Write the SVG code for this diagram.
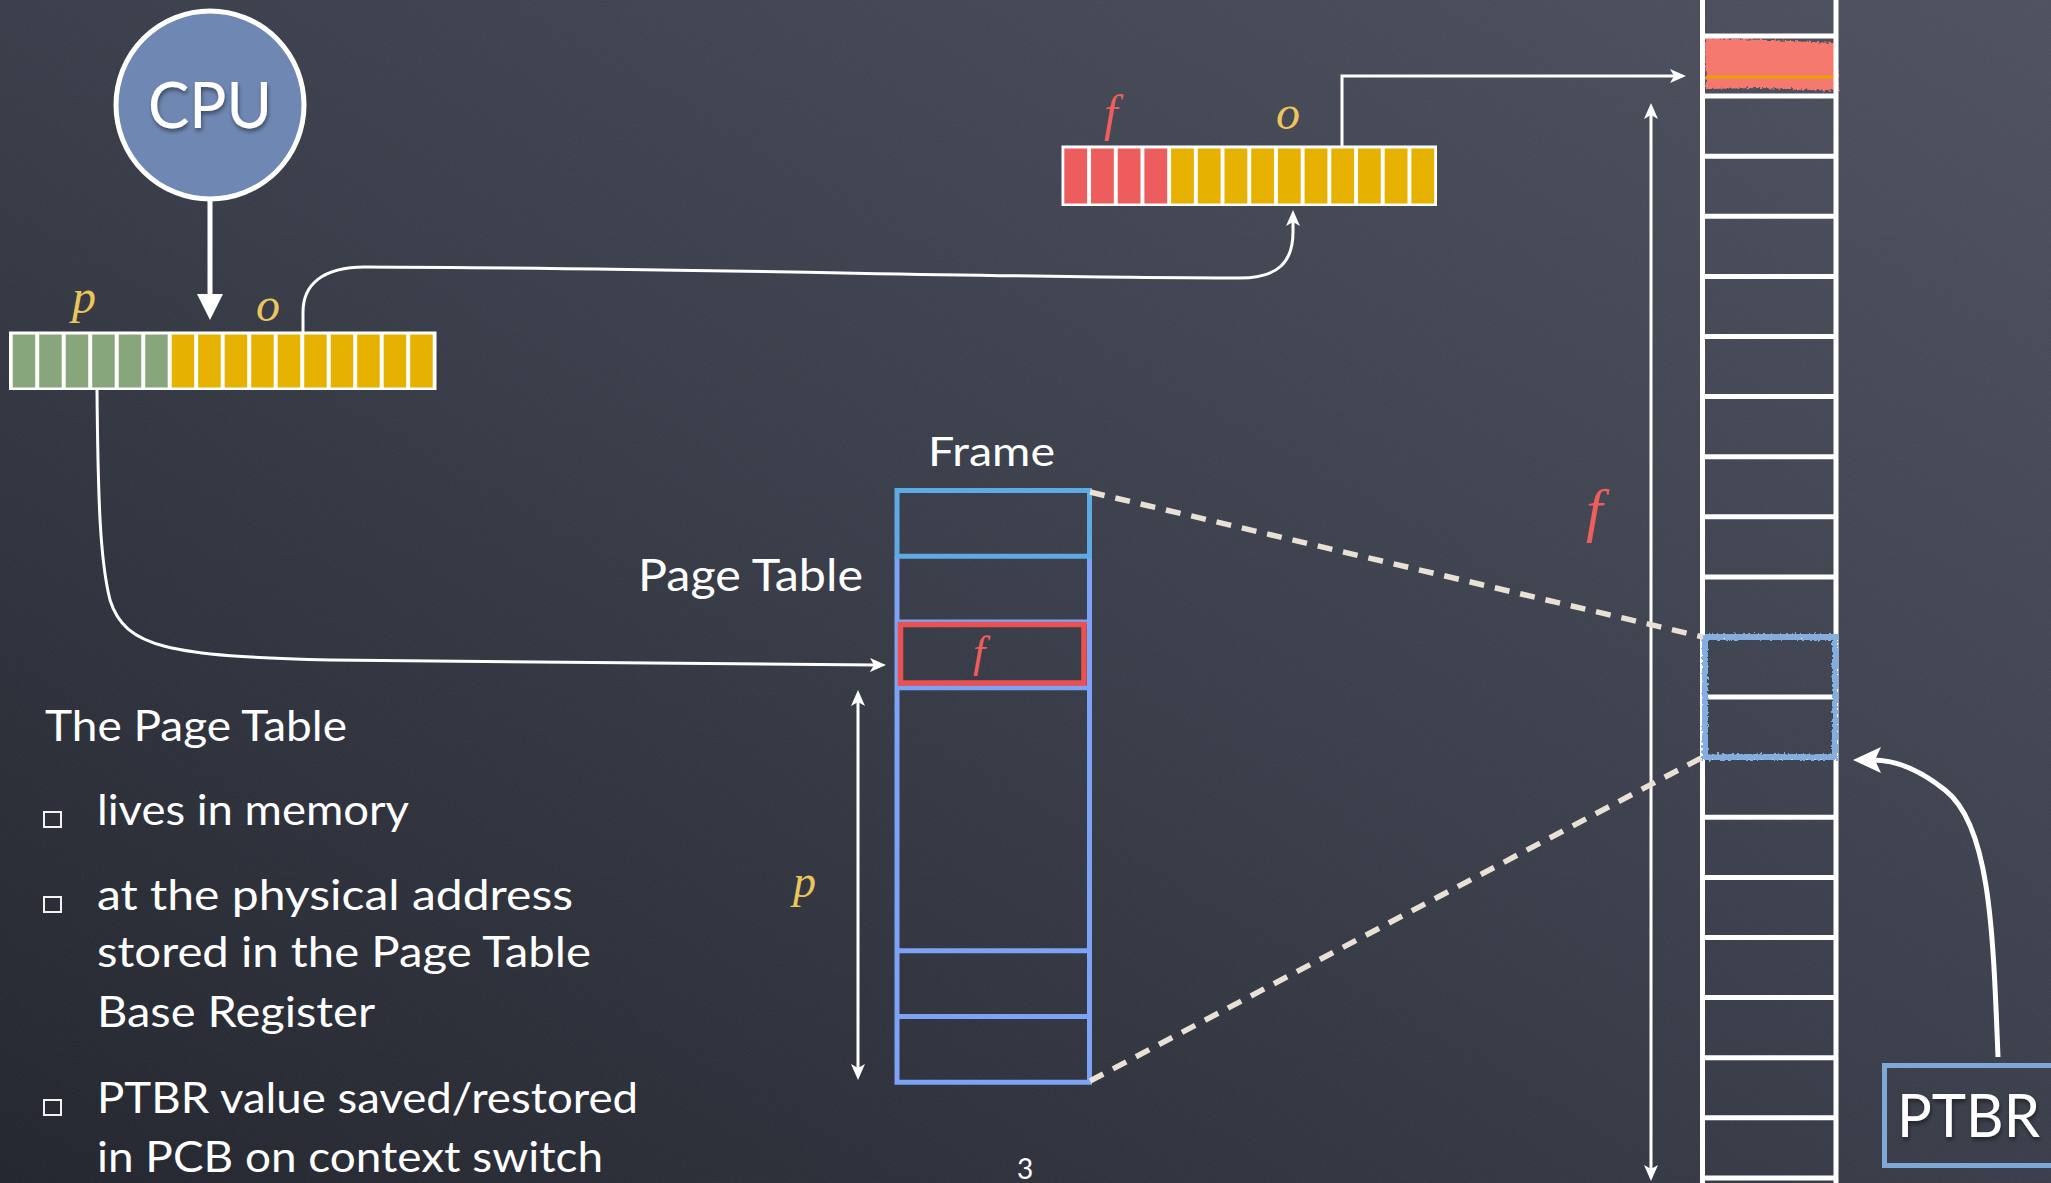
<svg xmlns="http://www.w3.org/2000/svg" width="2051" height="1183" viewBox="0 0 2051 1183">
  <defs>
    <linearGradient id="board" x1="0" y1="1" x2="1" y2="0">
      <stop offset="0" stop-color="#23262e"/>
      <stop offset="0.5" stop-color="#3a3e4a"/>
      <stop offset="1" stop-color="#4e525f"/>
    </linearGradient>
    <filter id="chalk" x="0" y="0" width="100%" height="100%">
      <feTurbulence type="fractalNoise" baseFrequency="0.8" numOctaves="2" seed="3" result="n"/>
      <feColorMatrix in="n" type="matrix" values="0 0 0 0 1  0 0 0 0 1  0 0 0 0 1  0 0 0 0.5 -0.15"/>
    </filter>
    <filter id="rough" x="-5%" y="-5%" width="110%" height="110%">
      <feTurbulence type="fractalNoise" baseFrequency="0.35" numOctaves="2" seed="7" result="t"/>
      <feDisplacementMap in="SourceGraphic" in2="t" scale="5" xChannelSelector="R" yChannelSelector="G"/>
    </filter>
    <filter id="shadow" x="-10%" y="-10%" width="120%" height="130%">
      <feDropShadow dx="1" dy="3" stdDeviation="2" flood-color="#000" flood-opacity="0.45"/>
    </filter>
    <marker id="ah" viewBox="0 0 16 16" markerWidth="16" markerHeight="16" refX="6" refY="8" orient="auto-start-reverse" markerUnits="userSpaceOnUse">
      <path d="M0,1 L16,8 L0,15 L4,8 z" fill="#ffffff"/>
    </marker>
    <marker id="ahBig" viewBox="0 0 26 26" markerWidth="26" markerHeight="26" refX="8" refY="13" orient="auto" markerUnits="userSpaceOnUse">
      <path d="M0,0 L26,13 L0,26 z" fill="#ffffff"/>
    </marker>
    <marker id="ahCurve" viewBox="0 0 28 26" markerWidth="28" markerHeight="26" refX="8" refY="13" orient="auto" markerUnits="userSpaceOnUse">
      <path d="M0,0 L28,13 L0,26 L6,13 z" fill="#ffffff"/>
    </marker>
    <style>
      .txt { font-family: Lato, "Open Sans", "Liberation Sans", sans-serif; fill: #ffffff; }
      .math { font-family: "Liberation Serif", "DejaVu Serif", serif; font-style: italic; }
      .gold { fill: #ecc55c; }
      .red { fill: #ef5d5d; }
      .frame { fill: #ffffff; }
      .green { fill: #87a67b; }
      .amber { fill: #e7b100; }
      .rcell { fill: #ee5d5d; }
      .wire { fill: none; stroke: #ffffff; stroke-width: 3; }
      .dash { fill: none; stroke: #e9e1d3; stroke-width: 5.5; stroke-dasharray: 15 11; }
      .pt { fill: none; stroke: #7ea2f5; stroke-width: 5; }
      .mem { fill: none; stroke: #ffffff; stroke-width: 5; }
      .bullet { fill: none; stroke: #f2f2f2; stroke-width: 2; }
    </style>
  </defs>

  <!-- chalkboard -->
  <rect width="2051" height="1183" fill="url(#board)"/>
  <rect width="2051" height="1183" filter="url(#chalk)" opacity="0.12"/>

  <!-- CPU -->
  <g id="cpu">
    <circle cx="210" cy="105" r="94" fill="#6f88b3" stroke="#ffffff" stroke-width="5"/>
    <text class="txt" x="148" y="128" font-size="64" textLength="124" lengthAdjust="spacingAndGlyphs" filter="url(#shadow)">CPU</text>
  </g>

  <!-- virtual address: page number p + offset o -->
  <g id="virtual-address">
    <rect x="9" y="331.5" width="427.5" height="58.5" class="frame"/>
    <rect class="green" x="12.7" y="334.5" width="22.5" height="53"/>
    <rect class="green" x="39.2" y="334.5" width="22.5" height="53"/>
    <rect class="green" x="65.7" y="334.5" width="22.5" height="53"/>
    <rect class="green" x="92.2" y="334.5" width="22.5" height="53"/>
    <rect class="green" x="118.7" y="334.5" width="22.5" height="53"/>
    <rect class="green" x="145.2" y="334.5" width="22.5" height="53"/>
    <rect class="amber" x="171.7" y="334.5" width="22.5" height="53"/>
    <rect class="amber" x="198.2" y="334.5" width="22.5" height="53"/>
    <rect class="amber" x="224.7" y="334.5" width="22.5" height="53"/>
    <rect class="amber" x="251.2" y="334.5" width="22.5" height="53"/>
    <rect class="amber" x="277.7" y="334.5" width="22.5" height="53"/>
    <rect class="amber" x="304.2" y="334.5" width="22.5" height="53"/>
    <rect class="amber" x="330.7" y="334.5" width="22.5" height="53"/>
    <rect class="amber" x="357.2" y="334.5" width="22.5" height="53"/>
    <rect class="amber" x="383.7" y="334.5" width="22.5" height="53"/>
    <rect class="amber" x="410.2" y="334.5" width="22.5" height="53"/>
    <text class="math gold" x="72" y="313" font-size="48">p</text>
    <text class="math gold" x="256" y="321" font-size="48">o</text>
  </g>

  <!-- physical address: frame f + offset o -->
  <g id="physical-address">
    <rect x="1061.5" y="145.5" width="375.5" height="60.5" class="frame"/>
    <rect class="rcell" x="1064.3" y="148.5" width="22.8" height="55"/>
    <rect class="rcell" x="1091" y="148.5" width="22.8" height="55"/>
    <rect class="rcell" x="1117.7" y="148.5" width="22.8" height="55"/>
    <rect class="rcell" x="1144.4" y="148.5" width="22.8" height="55"/>
    <rect class="amber" x="1171.1" y="148.5" width="22.8" height="55"/>
    <rect class="amber" x="1197.8" y="148.5" width="22.8" height="55"/>
    <rect class="amber" x="1224.5" y="148.5" width="22.8" height="55"/>
    <rect class="amber" x="1251.2" y="148.5" width="22.8" height="55"/>
    <rect class="amber" x="1277.9" y="148.5" width="22.8" height="55"/>
    <rect class="amber" x="1304.6" y="148.5" width="22.8" height="55"/>
    <rect class="amber" x="1331.3" y="148.5" width="22.8" height="55"/>
    <rect class="amber" x="1358" y="148.5" width="22.8" height="55"/>
    <rect class="amber" x="1384.7" y="148.5" width="22.8" height="55"/>
    <rect class="amber" x="1411.4" y="148.5" width="22.8" height="55"/>
    <text class="math red" x="1104" y="130" font-size="50">f</text>
    <text class="math gold" x="1276" y="129" font-size="48">o</text>
  </g>

  <!-- page table -->
  <g id="page-table">
    <text class="txt" x="928" y="466" font-size="40" textLength="127" lengthAdjust="spacingAndGlyphs">Frame</text>
    <text class="txt" x="638" y="591" font-size="44" textLength="225" lengthAdjust="spacingAndGlyphs">Page Table</text>
    <path class="pt" d="M897,556.3 L897,1082.3 L1089.5,1082.3 L1089.5,556.3 M897,622 L1089.5,622 M897,687.8 L1089.5,687.8 M897,950.8 L1089.5,950.8 M897,1016.5 L1089.5,1016.5"/>
    <path d="M897,556.3 L897,490.5 L1089.5,490.5 L1089.5,556.3 Z" fill="none" stroke="#5eaae2" stroke-width="5"/>
    <rect x="900.5" y="624.5" width="183.5" height="58.5" fill="none" stroke="#ea5252" stroke-width="5.5"/>
    <text class="math red" x="973" y="667" font-size="44">f</text>
    <text class="math gold" x="793" y="897" font-size="46">p</text>
  </g>

  <!-- physical memory -->
  <g id="memory">
    <path d="M1705,38 L1770,40 L1836,43 L1839,91 L1760,88 L1706,89 Z" fill="#f6796f" filter="url(#rough)"/>
    <line x1="1706" y1="77" x2="1833" y2="77" stroke="#e3a400" stroke-width="3"/>
    <path class="mem" d="M1702.5,0 L1702.5,1183 M1836,0 L1836,1183
      M1702.5,36 H1836 M1702.5,96.1 H1836 M1702.5,156.2 H1836 M1702.5,216.3 H1836 M1702.5,276.4 H1836
      M1702.5,336.5 H1836 M1702.5,396.6 H1836 M1702.5,456.7 H1836 M1702.5,516.8 H1836 M1702.5,576.9 H1836
      M1702.5,637 H1836 M1702.5,697.1 H1836 M1702.5,757.2 H1836 M1702.5,817.3 H1836 M1702.5,877.4 H1836
      M1702.5,937.5 H1836 M1702.5,997.6 H1836 M1702.5,1057.7 H1836 M1702.5,1117.8 H1836 M1702.5,1177.9 H1836"/>
    <rect x="1705" y="637" width="130" height="120" fill="none" stroke="#85aee0" stroke-width="6" filter="url(#rough)"/>
    <text class="math red" x="1586" y="530" font-size="60">f</text>
  </g>

  <!-- page table base register -->
  <g id="ptbr">
    <rect x="1884.5" y="1065.5" width="200" height="100" fill="none" stroke="#7ea8d8" stroke-width="5"/>
    <text class="txt" x="1897" y="1137" font-size="60" textLength="143" lengthAdjust="spacingAndGlyphs" filter="url(#shadow)">PTBR</text>
  </g>

  <!-- notes -->
  <g id="notes" class="txt" font-size="42">
    <text x="45" y="741" textLength="302" lengthAdjust="spacingAndGlyphs">The Page Table</text>
    <rect class="bullet" x="44" y="812" width="17" height="15"/>
    <text x="97" y="825" textLength="312" lengthAdjust="spacingAndGlyphs">lives in memory</text>
    <rect class="bullet" x="44" y="897" width="17" height="15"/>
    <text x="97" y="910" textLength="476" lengthAdjust="spacingAndGlyphs">at the physical address</text>
    <text x="97" y="967" textLength="494" lengthAdjust="spacingAndGlyphs">stored in the Page Table</text>
    <text x="97" y="1027" textLength="278" lengthAdjust="spacingAndGlyphs">Base Register</text>
    <rect class="bullet" x="44" y="1100" width="17" height="15"/>
    <text x="97" y="1113" textLength="541" lengthAdjust="spacingAndGlyphs">PTBR value saved/restored</text>
    <text x="97" y="1172" textLength="506" lengthAdjust="spacingAndGlyphs">in PCB on context switch</text>
  </g>

  <!-- slide number -->
  <text class="txt" x="1025" y="1179" font-size="28" text-anchor="middle">3</text>

  <!-- connectors -->
  <g id="connectors">
    <line x1="210" y1="201" x2="210" y2="302" stroke="#ffffff" stroke-width="5" marker-end="url(#ahBig)"/>
    <path class="wire" d="M303,332 L303,312 C303,285 322,267 365,267 C700,268 1000,278 1240,278 C1278,278 1293,262 1293,232 L1293,220" marker-end="url(#ah)"/>
    <path class="wire" d="M1342,146 L1342,76 L1676,76" marker-end="url(#ah)"/>
    <path class="wire" d="M97,390 C98,500 100,560 110,600 C125,648 170,656 330,660 L876,665" marker-end="url(#ah)"/>
    <line class="wire" x1="858" y1="700" x2="858" y2="1070" marker-start="url(#ah)" marker-end="url(#ah)"/>
    <line class="wire" x1="1651" y1="113" x2="1651" y2="1171" marker-start="url(#ah)" marker-end="url(#ah)"/>
    <path d="M1998,1057 C1993,930 1990,825 1945,790 C1925,774 1900,760 1873,760" fill="none" stroke="#ffffff" stroke-width="5" marker-end="url(#ahCurve)"/>
    <line class="dash" x1="1090" y1="492" x2="1703" y2="637"/>
    <line class="dash" x1="1090" y1="1081" x2="1703" y2="757"/>
  </g>
</svg>
